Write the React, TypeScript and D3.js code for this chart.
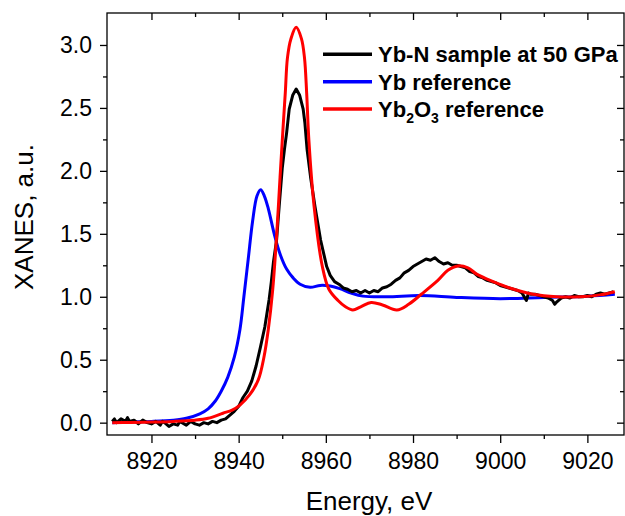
import React, { useRef, useEffect } from "react";
import * as d3 from "d3";

// Yb-N sample at 50 GPa (noisy measured spectrum)
const sampleEnergy = [
  8911, 8911.5, 8912, 8913, 8914, 8914.5, 8915, 8916, 8917, 8918, 8919, 8920, 8921, 8922, 8922.5,
  8923, 8924, 8925, 8926, 8926.5, 8927, 8928, 8929, 8930, 8931, 8932, 8933, 8934, 8935, 8936,
  8937, 8938, 8939, 8940, 8941, 8942, 8943, 8944, 8945, 8946, 8947, 8947.5, 8948, 8948.7,
  8949.3, 8950, 8950.5, 8951, 8951.6, 8952.4, 8953.2, 8954, 8954.8, 8955.2, 8955.7, 8956.5,
  8957.5, 8958.8, 8960.2, 8961, 8962, 8963, 8964, 8965, 8966, 8967, 8968, 8969, 8970, 8971,
  8972, 8973, 8974, 8975, 8976, 8977, 8978, 8979, 8980, 8981, 8982, 8983, 8984, 8985, 8986,
  8987, 8988, 8989, 8990, 8991, 8992, 8993, 8994, 8995, 8996, 8997, 8998, 8999, 9000, 9001,
  9002, 9003, 9004, 9005, 9006, 9006.5, 9007, 9008, 9009, 9010, 9011, 9012, 9012.5, 9013,
  9014, 9015, 9016, 9017, 9018, 9019, 9020, 9021, 9022, 9023, 9024, 9025, 9026,
];
const sampleValue = [
  0.01, 0.03, 0.0, 0.03, 0.01, 0.04, 0.01, 0.02, -0.01, 0.02, 0.0, -0.01, 0.01, -0.02, 0.01,
  0.0, -0.03, -0.01, -0.02, 0.01, 0.0, -0.02, 0.01, -0.01, -0.02, 0.0, -0.01, 0.01, 0.0, 0.02,
  0.03, 0.06, 0.09, 0.13, 0.2, 0.25, 0.33, 0.45, 0.6, 0.76, 0.98, 1.12, 1.28, 1.45,
  1.72, 2.02, 2.17, 2.3, 2.49, 2.6, 2.65, 2.6, 2.49, 2.38, 2.17, 1.95,
  1.72, 1.45, 1.24, 1.17, 1.12, 1.1, 1.07, 1.06, 1.04, 1.05, 1.03, 1.05, 1.03, 1.05,
  1.04, 1.07, 1.08, 1.1, 1.13, 1.15, 1.19, 1.21, 1.24, 1.26, 1.28, 1.3, 1.29, 1.31, 1.28,
  1.26, 1.27, 1.25, 1.25, 1.24, 1.23, 1.2, 1.19, 1.16, 1.15, 1.13, 1.12, 1.11, 1.09, 1.08,
  1.07, 1.06, 1.05, 1.03, 0.97, 1.03, 1.02, 1.02, 1.01, 1.0, 0.99, 0.97, 0.94, 0.96,
  0.99, 1.0, 0.99, 1.01, 1.0, 1.0, 1.01, 1.0, 1.02, 1.03, 1.02, 1.03, 1.04,
];

// Yb reference
const ybEnergy = [
  8911, 8915, 8920, 8925, 8928, 8931.1, 8933, 8934.6, 8936, 8937.5, 8939, 8940.3, 8941.2,
  8942.2, 8943.2, 8944.2, 8945.05, 8945.9, 8946.8, 8948.3, 8949.6, 8951, 8952.5, 8954.1,
  8956.4, 8958.7, 8961, 8963.2, 8965.8, 8968.5, 8974, 8981.6, 8990, 9000, 9010, 9020, 9026.3,
];
const ybValue = [
  0.0, 0.005, 0.01, 0.02, 0.035, 0.07, 0.11, 0.17, 0.25, 0.36, 0.52, 0.74, 1.0,
  1.3, 1.6, 1.8, 1.85, 1.8, 1.7, 1.48, 1.33, 1.22, 1.15, 1.1,
  1.075, 1.09, 1.085, 1.065, 1.03, 1.005, 1.0, 1.01, 0.995, 0.985, 0.995, 1.005, 1.02,
];

// Yb2O3 reference
const oxideEnergy = [
  8911, 8915, 8920, 8925, 8930, 8933, 8936.4, 8938.5, 8940.3, 8942.5, 8944.5, 8945.8, 8946.8,
  8947.8, 8948.7, 8949.5, 8950.2, 8950.7, 8951.2, 8952, 8953.2, 8954.4, 8955.1, 8955.6,
  8956.1, 8957.3, 8959.2, 8960.7, 8962.8, 8964.5, 8966.2, 8968, 8970.4, 8973, 8976.3, 8979,
  8981.9, 8985.7, 8988, 8990.3, 8992.6, 8994.6, 8998.4, 9002.2, 9007.6, 9012.9, 9018.3,
  9022.9, 9026.3,
];
const oxideValue = [
  0.0, 0.002, 0.005, 0.01, 0.02, 0.035, 0.075, 0.1, 0.14, 0.22, 0.34, 0.52, 0.74,
  1.05, 1.48, 1.95, 2.35, 2.62, 2.9, 3.05, 3.14, 3.05, 2.9, 2.62,
  2.25, 1.72, 1.24, 1.06, 0.97, 0.92, 0.895, 0.92, 0.955, 0.935, 0.895, 0.94,
  1.02, 1.13, 1.21, 1.245, 1.23, 1.18, 1.12, 1.07, 1.02, 1.0, 1.0,
  1.015, 1.04,
];

const xMajorTicks = [8920, 8940, 8960, 8980, 9000, 9020];
const xMinorTicks = [8930, 8950, 8970, 8990, 9010];
const yMajorTicks = [0.0, 0.5, 1.0, 1.5, 2.0, 2.5, 3.0];
const yMinorTicks = [0.25, 0.75, 1.25, 1.75, 2.25, 2.75];

const seriesNames = ["Yb-N sample at 50 GPa", "Yb reference", "Yb2O3 reference"];
const seriesColors = ["#000000", "#0000ff", "#ff0000"];

const FONT = "'Liberation Sans', Arial, sans-serif";

const App = () => {
  const svgRef = useRef(null);

  useEffect(() => {
    const root = d3.select(svgRef.current);
    root.selectAll("*").remove();

    const W = 625;
    const H = 516;
    const margin = { top: 13, right: 1, bottom: 81, left: 107 };
    const width = W - margin.left - margin.right;
    const height = H - margin.top - margin.bottom;

    const svg = root
      .attr("width", W)
      .attr("height", H)
      .append("g")
      .attr("transform", `translate(${margin.left}, ${margin.top})`);

    const x = d3.scaleLinear().domain([8909.8, 9028.4]).range([0, width]);
    const y = d3.scaleLinear().domain([-0.098, 3.254]).range([height, 0]);

    // axes: major/minor ticks, outward on bottom/left, inward on top/right
    const styleAxis = (g, fontSize) => {
      g.select(".domain").remove();
      g.selectAll("line").attr("stroke", "#000").attr("stroke-width", 1.3);
      g.selectAll("text")
        .attr("fill", "#000")
        .style("font-family", FONT)
        .style("font-size", fontSize);
    };

    svg
      .append("g")
      .attr("transform", `translate(0, ${height})`)
      .call(
        d3.axisBottom(x).tickValues(xMajorTicks).tickFormat(d3.format("d")).tickSize(8).tickPadding(10)
      )
      .call((g) => styleAxis(g, "23px"));
    svg
      .append("g")
      .attr("transform", `translate(0, ${height})`)
      .call(d3.axisBottom(x).tickValues(xMinorTicks).tickFormat(() => "").tickSize(4))
      .call((g) => styleAxis(g, "1px"));

    svg
      .append("g")
      .call(d3.axisLeft(y).tickValues(yMajorTicks).tickFormat(d3.format(".1f")).tickSize(7).tickPadding(8))
      .call((g) => styleAxis(g, "23px"));
    svg
      .append("g")
      .call(d3.axisLeft(y).tickValues(yMinorTicks).tickFormat(() => "").tickSize(4))
      .call((g) => styleAxis(g, "1px"));

    svg
      .append("g")
      .call(d3.axisTop(x).tickValues(xMajorTicks).tickFormat(() => "").tickSize(-7))
      .call((g) => styleAxis(g, "1px"));
    svg
      .append("g")
      .call(d3.axisTop(x).tickValues(xMinorTicks).tickFormat(() => "").tickSize(-4))
      .call((g) => styleAxis(g, "1px"));

    svg
      .append("g")
      .attr("transform", `translate(${width}, 0)`)
      .call(d3.axisRight(y).tickValues(yMajorTicks).tickFormat(() => "").tickSize(-7))
      .call((g) => styleAxis(g, "1px"));
    svg
      .append("g")
      .attr("transform", `translate(${width}, 0)`)
      .call(d3.axisRight(y).tickValues(yMinorTicks).tickFormat(() => "").tickSize(-4))
      .call((g) => styleAxis(g, "1px"));

    // frame
    svg
      .append("rect")
      .attr("width", width)
      .attr("height", height)
      .attr("fill", "none")
      .attr("stroke", "#000")
      .attr("stroke-width", 1.3);

    // curves
    svg
      .append("defs")
      .append("clipPath")
      .attr("id", "plotClip")
      .append("rect")
      .attr("width", width)
      .attr("height", height);

    const smooth = d3
      .line()
      .x((d) => x(d[0]))
      .y((d) => y(d[1]))
      .curve(d3.curveCatmullRom.alpha(0.5));
    const raw = d3
      .line()
      .x((d) => x(d[0]))
      .y((d) => y(d[1]));

    const plot = svg.append("g").attr("clip-path", "url(#plotClip)");

    plot
      .append("path")
      .datum(d3.zip(ybEnergy, ybValue))
      .attr("d", smooth)
      .attr("fill", "none")
      .attr("stroke", seriesColors[1])
      .attr("stroke-width", 3)
      .attr("stroke-linejoin", "round");

    plot
      .append("path")
      .datum(d3.zip(sampleEnergy, sampleValue))
      .attr("d", raw)
      .attr("fill", "none")
      .attr("stroke", seriesColors[0])
      .attr("stroke-width", 3)
      .attr("stroke-linejoin", "round");

    plot
      .append("path")
      .datum(d3.zip(oxideEnergy, oxideValue))
      .attr("d", smooth)
      .attr("fill", "none")
      .attr("stroke", seriesColors[2])
      .attr("stroke-width", 3)
      .attr("stroke-linejoin", "round");

    // axis titles
    svg
      .append("text")
      .attr("x", 262)
      .attr("y", height + 75)
      .attr("text-anchor", "middle")
      .style("font-family", FONT)
      .style("font-size", "26px")
      .text("Energy, eV");

    svg
      .append("text")
      .attr("transform", `translate(${33 - margin.left}, ${217 - margin.top}) rotate(-90)`)
      .attr("text-anchor", "middle")
      .style("font-family", FONT)
      .style("font-size", "26px")
      .text("XANES, a.u.");

    // legend
    const legend = svg
      .selectAll(".legend")
      .data(seriesNames)
      .enter()
      .append("g")
      .attr("class", "legend")
      .attr("transform", (d, i) => `translate(${323 - margin.left}, ${54.3 - margin.top + i * 27.4})`);

    legend
      .append("line")
      .attr("x1", 0)
      .attr("x2", 49)
      .attr("stroke", (d, i) => seriesColors[i])
      .attr("stroke-width", 3.5);

    const label = legend
      .append("text")
      .attr("x", 55)
      .attr("y", 8)
      .style("font-family", FONT)
      .style("font-size", "22px")
      .style("font-weight", "bold");

    label.each(function (d) {
      const t = d3.select(this);
      if (d === "Yb2O3 reference") {
        t.append("tspan").text("Yb");
        t.append("tspan").attr("dy", 6).style("font-size", "14px").text("2");
        t.append("tspan").attr("dy", -6).text("O");
        t.append("tspan").attr("dy", 6).style("font-size", "14px").text("3");
        t.append("tspan").attr("dy", -6).text(" reference");
      } else {
        t.text(d);
      }
    });
  }, []);

  return (
    <div style={{ position: "absolute", left: 0, top: 0 }}>
      <svg ref={svgRef} style={{ display: "block" }}></svg>
    </div>
  );
};

export default App;
